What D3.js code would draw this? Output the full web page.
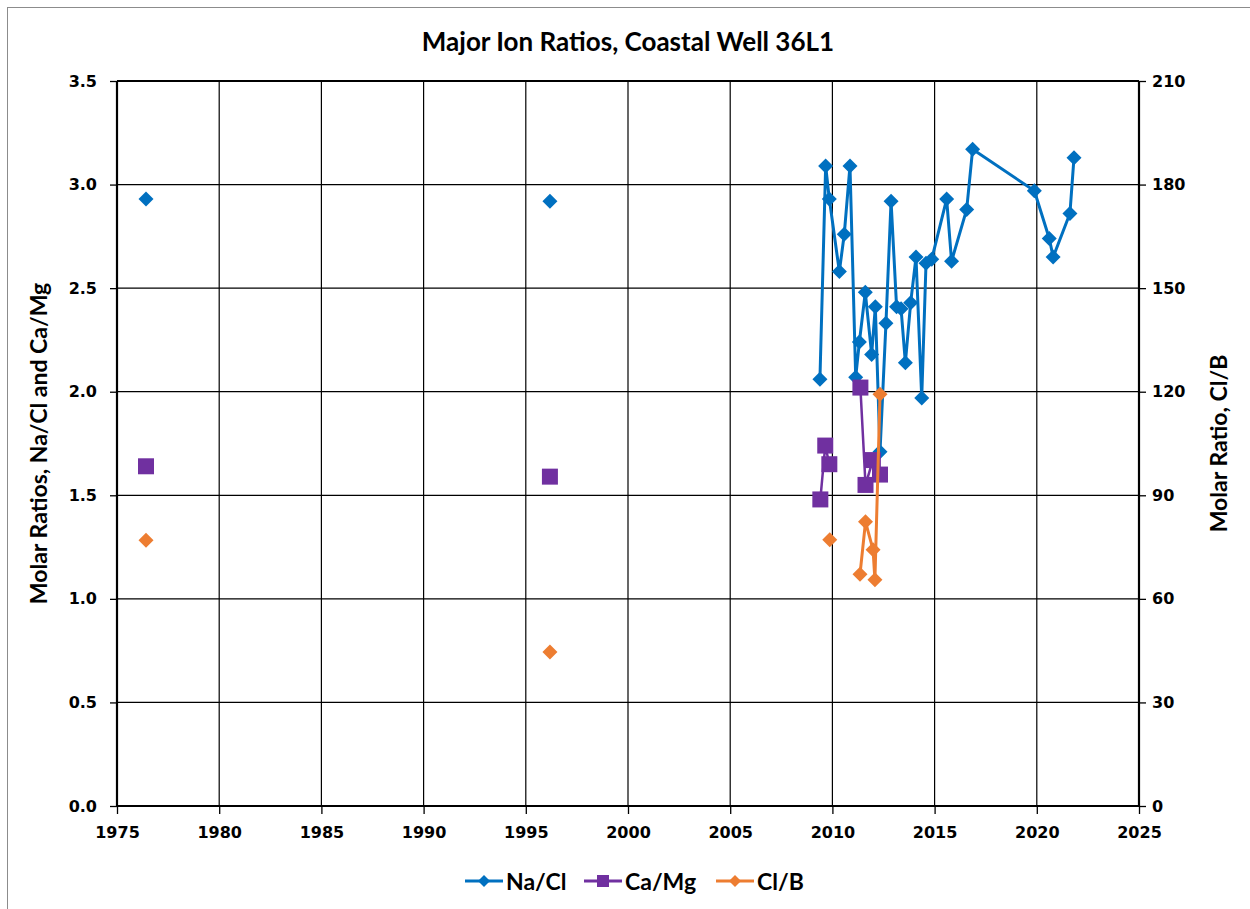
<!DOCTYPE html>
<html>
<head>
<meta charset="utf-8">
<script src="https://cdn.jsdelivr.net/npm/d3@7"></script>
<style>
  html, body { margin: 0; padding: 0; background: #fff; }
  svg { display: block; }
</style>
</head>
<body>
<svg id="chart" width="1250" height="909"></svg>
<script>
// Sample dates (decimal years) and molar ratios; null entries break a line.
const naclDates  = [1976.42, null, 1996.18, null,
  2009.39, 2009.67, 2009.85, 2010.34, 2010.58, 2010.86, 2011.14, 2011.32, 2011.61,
  2011.92, 2012.10, 2012.33, 2012.62, 2012.87, 2013.14, 2013.36, 2013.57, 2013.83,
  2014.09, 2014.37, 2014.58, 2014.86, 2015.59, 2015.83, 2016.57, 2016.86, 2019.88,
  2020.61, 2020.80, 2021.62, 2021.82];
const naclValues = [2.93, null, 2.92, null,
  2.06, 3.09, 2.93, 2.58, 2.76, 3.09, 2.07, 2.24, 2.48,
  2.18, 2.41, 1.71, 2.33, 2.92, 2.41, 2.40, 2.14, 2.43,
  2.65, 1.97, 2.62, 2.64, 2.93, 2.63, 2.88, 3.17, 2.97,
  2.74, 2.65, 2.86, 3.13];

const camgDates  = [1976.42, null, 1996.18, null, 2009.41, 2009.65, 2009.85, null,
  2011.37, 2011.62, 2011.98, 2012.33];
const camgValues = [1.64, null, 1.59, null, 1.48, 1.74, 1.65, null,
  2.02, 1.55, 1.67, 1.60];

const clbDates  = [1976.42, null, 1996.18, null, 2009.87, null,
  2011.35, 2011.62, 2011.99, 2012.08, 2012.33];
const clbValues = [77.0, null, 44.6, null, 77.1, null,
  67.1, 82.3, 74.2, 65.5, 119.3];

const yearTicks  = [1975, 1980, 1985, 1990, 1995, 2000, 2005, 2010, 2015, 2020, 2025];
const leftTicks  = [0, 0.5, 1.0, 1.5, 2.0, 2.5, 3.0, 3.5];
const rightTicks = [0, 30, 60, 90, 120, 150, 180, 210];

const titleText = "Major Ion Ratios, Coastal Well 36L1";
const leftLabel = "Molar Ratios, Na/Cl and Ca/Mg";
const rightLabel = "Molar Ratio, Cl/B";
const seriesNames = ["Na/Cl", "Ca/Mg", "Cl/B"];

const COLORS = { nacl: "#0070C0", camg: "#7030A0", clb: "#ED7D31" };
const LABEL_FONT = "Lato, 'Open Sans', sans-serif";
const TICK_FONT = "'DejaVu Sans', Verdana, sans-serif";

const svg = d3.select("#chart");
const plot = { left: 117, right: 1139, top: 81, bottom: 806 };

const x = d3.scaleLinear().domain([1975, 2025]).range([plot.left, plot.right]);
const yL = d3.scaleLinear().domain([0, 3.5]).range([plot.bottom, plot.top]);
const yR = d3.scaleLinear().domain([0, 210]).range([plot.bottom, plot.top]);

// outer chart frame
svg.append("rect")
  .attr("x", 7.5).attr("y", 7.5).attr("width", 1260).attr("height", 920)
  .attr("fill", "none").attr("stroke", "#8c8c8c").attr("stroke-width", 1);

// gridlines
const grid = svg.append("g");
grid.selectAll("line.v").data(yearTicks.slice(1, -1)).join("line")
  .attr("x1", d => x(d)).attr("x2", d => x(d))
  .attr("y1", plot.top).attr("y2", plot.bottom)
  .attr("stroke", "#000").attr("stroke-width", 1.2);
grid.selectAll("line.h").data(leftTicks.slice(1)).join("line")
  .attr("x1", plot.left).attr("x2", plot.right)
  .attr("y1", d => yL(d)).attr("y2", d => yL(d))
  .attr("stroke", "#000").attr("stroke-width", d => d === 3.5 ? 2 : 1.2);

// axes
function styleAxis(g) {
  g.select(".domain").remove();
  g.selectAll(".tick line").attr("stroke", "#000").attr("stroke-width", 1.3);
  g.selectAll(".tick text")
    .attr("fill", "#000")
    .style("font-family", TICK_FONT)
    .style("font-weight", "bold")
    .style("font-size", "16px");
}

svg.append("g")
  .attr("transform", `translate(0,${plot.bottom})`)
  .call(d3.axisBottom(x).tickValues(yearTicks).tickFormat(d3.format("d")).tickSize(8).tickPadding(13))
  .call(styleAxis);

svg.append("g")
  .attr("transform", `translate(${plot.left},0)`)
  .call(d3.axisLeft(yL).tickValues(leftTicks).tickFormat(d3.format(".1f")).tickSize(7).tickPadding(13))
  .call(styleAxis);

svg.append("g")
  .attr("transform", `translate(${plot.right},0)`)
  .call(d3.axisRight(yR).tickValues(rightTicks).tickFormat(d3.format("d")).tickSize(7).tickPadding(6))
  .call(styleAxis);

// axis lines
svg.append("line").attr("x1", plot.left).attr("x2", plot.left)
  .attr("y1", plot.top).attr("y2", plot.bottom).attr("stroke", "#000").attr("stroke-width", 2.2);
svg.append("line").attr("x1", plot.right).attr("x2", plot.right)
  .attr("y1", plot.top).attr("y2", plot.bottom).attr("stroke", "#000").attr("stroke-width", 2.2);
svg.append("line").attr("x1", plot.left).attr("x2", plot.right)
  .attr("y1", plot.bottom).attr("y2", plot.bottom).attr("stroke", "#000").attr("stroke-width", 2.2);

// marker shapes
const diamondPath = r => `M0,${-r}L${r},0L0,${r}L${-r},0Z`;
const squarePath = s => `M${-s / 2},${-s / 2}h${s}v${s}h${-s}Z`;

function drawSeries(dates, values, yScale, color, width, shape) {
  const pts = dates.map((d, i) => ({ t: d, v: values[i] }));
  const line = d3.line()
    .defined(p => p.t !== null && p.v !== null)
    .x(p => x(p.t)).y(p => yScale(p.v));
  const g = svg.append("g");
  g.append("path").datum(pts)
    .attr("d", line)
    .attr("fill", "none").attr("stroke", color)
    .attr("stroke-width", width).attr("stroke-linejoin", "round");
  g.selectAll("path.m").data(pts.filter(p => p.t !== null && p.v !== null)).join("path")
    .attr("class", "m")
    .attr("transform", p => `translate(${x(p.t)},${yScale(p.v)})`)
    .attr("d", shape)
    .attr("fill", color);
}

drawSeries(naclDates, naclValues, yL, COLORS.nacl, 3, diamondPath(7.5));
drawSeries(camgDates, camgValues, yL, COLORS.camg, 2.5, squarePath(16));
drawSeries(clbDates, clbValues, yR, COLORS.clb, 3, diamondPath(7.5));

// title
svg.append("text")
  .attr("x", (plot.left + plot.right) / 2).attr("y", 51)
  .attr("text-anchor", "middle")
  .style("font-family", LABEL_FONT).style("font-weight", "bold").style("font-size", "26px")
  .text(titleText);

// axis titles
svg.append("text")
  .attr("transform", `translate(47,${(plot.top + plot.bottom) / 2}) rotate(-90)`)
  .attr("text-anchor", "middle")
  .style("font-family", LABEL_FONT).style("font-weight", "bold").style("font-size", "23px")
  .text(leftLabel);

svg.append("text")
  .attr("transform", `translate(1227,${(plot.top + plot.bottom) / 2}) rotate(-90)`)
  .attr("text-anchor", "middle")
  .style("font-family", LABEL_FONT).style("font-weight", "bold").style("font-size", "23px")
  .text(rightLabel);

// legend
const legendItems = [
  { name: seriesNames[0], color: COLORS.nacl, shape: diamondPath(6), x0: 465 },
  { name: seriesNames[1], color: COLORS.camg, shape: squarePath(12), x0: 584 },
  { name: seriesNames[2], color: COLORS.clb, shape: diamondPath(6), x0: 716 }
];
const legendY = 881;
const lg = svg.append("g");
legendItems.forEach(it => {
  lg.append("line")
    .attr("x1", it.x0).attr("x2", it.x0 + 38)
    .attr("y1", legendY).attr("y2", legendY)
    .attr("stroke", it.color).attr("stroke-width", 3);
  lg.append("path")
    .attr("transform", `translate(${it.x0 + 19},${legendY})`)
    .attr("d", it.shape).attr("fill", it.color);
  lg.append("text")
    .attr("x", it.x0 + 41).attr("y", legendY + 8.5)
    .style("font-family", LABEL_FONT).style("font-weight", "bold").style("font-size", "23px")
    .text(it.name);
});
</script>
</body>
</html>
